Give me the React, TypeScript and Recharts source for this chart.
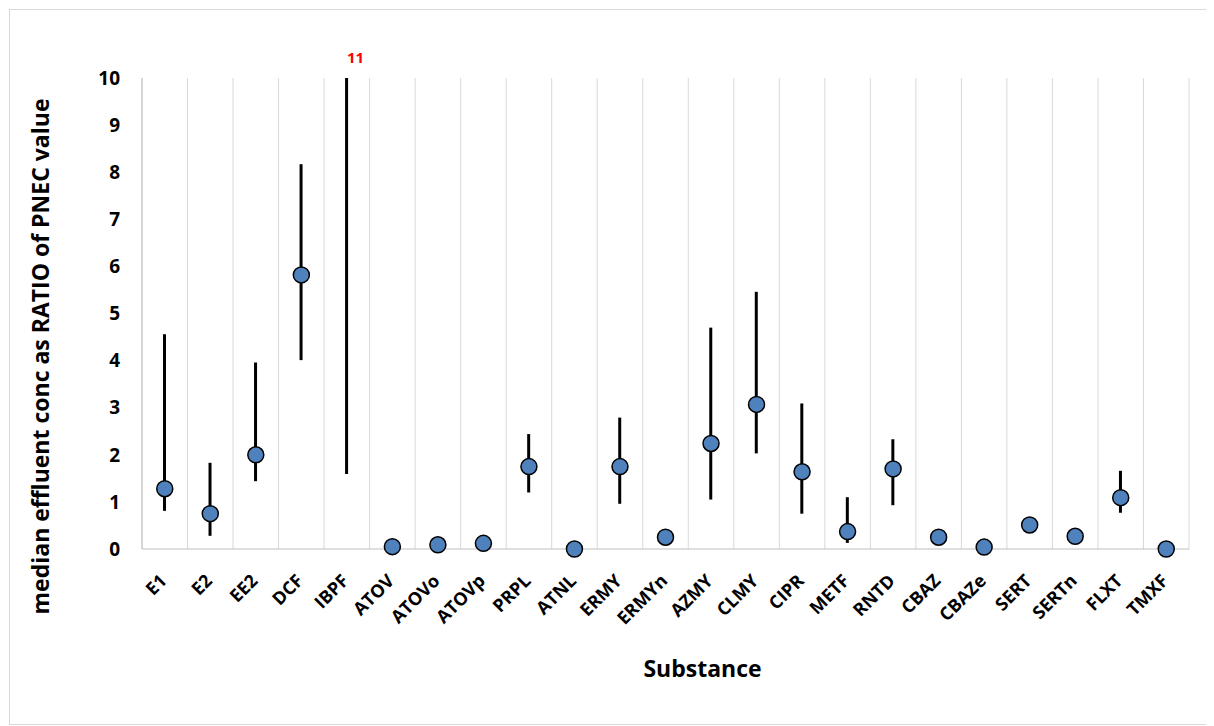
import { ComposedChart, Bar, Scatter, XAxis, YAxis, CartesianGrid, LabelList } from "recharts";

const categories = [
  "E1", "E2", "EE2", "DCF", "IBPF", "ATOV", "ATOVo", "ATOVp", "PRPL", "ATNL", "ERMY", "ERMYn",
  "AZMY", "CLMY", "CIPR", "METF", "RNTD", "CBAZ", "CBAZe", "SERT", "SERTn", "FLXT", "TMXF",
];
const medians = [
  1.28, 0.75, 2.0, 5.82, 11, 0.05, 0.09, 0.12, 1.75, 0.0, 1.75, 0.25,
  2.24, 3.07, 1.64, 0.37, 1.7, 0.25, 0.04, 0.51, 0.27, 1.09, 0.0,
];
const lows = [
  0.81, 0.28, 1.44, 4.01, 1.59, null, null, null, 1.2, null, 0.96, null,
  1.05, 2.03, 0.75, 0.13, 0.93, null, null, 0.42, null, 0.77, null,
];
const highs = [
  4.56, 1.83, 3.96, 8.17, 20, null, null, null, 2.44, null, 2.79, null,
  4.7, 5.46, 3.09, 1.1, 2.33, null, null, 0.51, null, 1.66, null,
];
const yTicks = [0, 1, 2, 3, 4, 5, 6, 7, 8, 9, 10];
const yMax = 10;

const data = categories.map((name, i) => ({
  name,
  median: medians[i] <= yMax ? medians[i] : null,
  over: medians[i] > yMax ? medians[i] : null,
  range: lows[i] != null && highs[i] != null ? [lows[i], Math.min(highs[i] as number, yMax)] : null,
}));

const FONT = "'Open Sans', sans-serif";

// category label at -45deg, text ends just right of / below the category centre
const renderXTick = ({ x, y, payload }: any) => (
  <g transform={`translate(${Number(x) + 3}, ${Number(y) + 25})`}>
    <text transform="rotate(-45)" textAnchor="end" fontFamily={FONT} fontWeight={700} fontSize={18} fill="#000">
      {payload.value}
    </text>
  </g>
);

const Dot = ({ cx, cy, payload }: any) =>
  payload.median == null ? <g /> : (
    <circle cx={cx} cy={cy} r={8} fill="#4f81bd" stroke="#000" strokeWidth={1.5} />
  );

const OverLabel = ({ x, y, width, value }: any) =>
  value == null ? null : (
    <text x={x + width / 2 + 9} y={y - 15} textAnchor="middle" fill="#ff0000" fontFamily={FONT} fontWeight={700} fontSize={15}>
      {value}
    </text>
  );

const YLabel = ({ viewBox }: any) => {
  const cx = viewBox.x + 28;
  const cy = viewBox.y + viewBox.height / 2 + 43;
  return (
    <text x={cx} y={cy} transform={`rotate(-90, ${cx}, ${cy})`} textAnchor="middle" dominantBaseline="central"
      fontFamily={FONT} fontWeight={700} fontSize={23} fill="#000">
      median effluent conc as RATIO of PNEC value
    </text>
  );
};

const XLabel = ({ viewBox }: any) => (
  <text x={viewBox.x + viewBox.width / 2 + 37} y={viewBox.y + viewBox.height - 2} textAnchor="middle"
    fontFamily={FONT} fontWeight={700} fontSize={23} fill="#000">
    Substance
  </text>
);

export default function App() {
  return (
    <div style={{ width: 1202, height: 714, border: "1px solid #d9d9d9", marginLeft: 1, marginTop: 1, background: "#fff" }}>
      <ComposedChart
        width={1200}
        height={712}
        data={data}
        margin={{ top: 68, right: 21, left: 2, bottom: 43 }}
      >
        <CartesianGrid
          horizontal={false}
          stroke="#d9d9d9"
          verticalCoordinatesGenerator={({ offset }: any) =>
            categories.map((_, i) => offset.left + (i * offset.width) / categories.length).concat(offset.left + offset.width)
          }
        />
        <XAxis
          dataKey="name"
          interval={0}
          tickLine={false}
          axisLine={{ stroke: "#bfbfbf" }}
          height={130}
          tick={renderXTick}
          label={<XLabel />}
        />
        <YAxis
          domain={[0, yMax]}
          ticks={yTicks}
          interval={0}
          width={130}
          tickLine={false}
          tickMargin={16}
          axisLine={{ stroke: "#bfbfbf" }}
          tick={{ fontFamily: FONT, fontWeight: 700, fontSize: 19, fill: "#000" }}
          label={<YLabel />}
        />
        <Bar dataKey="range" barSize={3} fill="#000" isAnimationActive={false}>
          <LabelList dataKey="over" content={<OverLabel />} />
        </Bar>
        <Scatter dataKey="median" shape={<Dot />} isAnimationActive={false} />
      </ComposedChart>
    </div>
  );
}
